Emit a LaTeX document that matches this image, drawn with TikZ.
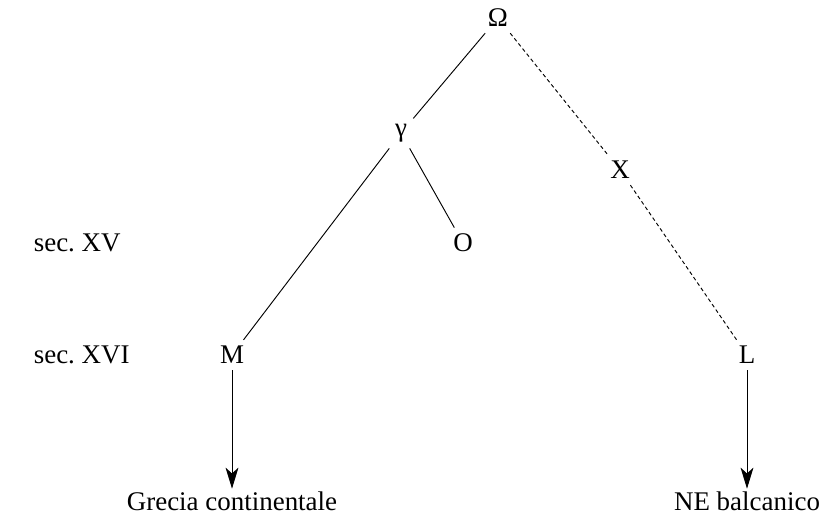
\documentclass[tikz,border=0pt]{standalone}
\usepackage{fontspec}
\setmainfont{Liberation Serif}
\usetikzlibrary{arrows.meta,positioning}
\frenchspacing

\begin{document}
\begin{tikzpicture}[x=0.015cm, y=-0.015cm, every node/.style={font=\fontsize{11.5}{13}\selectfont, inner sep=1pt},
  ms/.style={inner sep=2.5pt},
  lost/.style={dash pattern=on 1.6pt off 1.2pt},
  trad/.style={-{Stealth[length=9pt,width=5.5pt,inset=2.5pt]}}]
\useasboundingbox (0,0) rectangle (834,520);
% manuscripts
\node[ms] (omega) at (498,18) {Ω};
\node[ms] (gamma) at (401,133) {γ};
\node[ms] (x) at (620,170) {X};
\node[ms] (o) at (463,243) {O};
\node[ms] (m) at (232,355) {M};
\node[ms] (l) at (747,355) {L};
% centuries
\node[anchor=west] (xv) at (31,243) {sec. XV};
\node[anchor=west] (xvi) at (31,355) {sec. XVI};
% areas
\node (grecia) at (232,501) {Grecia continentale};
\node (balc) at (747,501) {NE balcanico};
% stemma
\draw (omega) -- (gamma);
\draw (gamma) -- (o);
\draw (gamma) -- (m);
\draw[lost] (omega) -- (x);
\draw[lost] (x) -- (l);
\draw[trad] (m) -- (grecia);
\draw[trad] (l) -- (l |- balc.north);
\end{tikzpicture}
\end{document}
